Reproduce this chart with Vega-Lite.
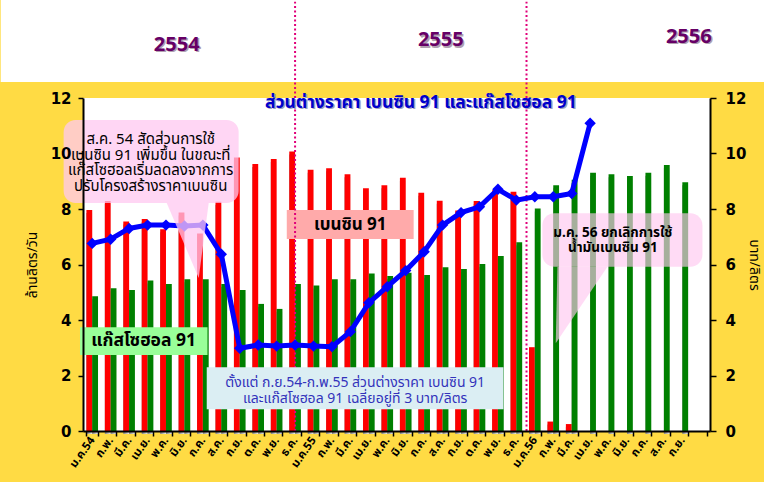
{
  "$schema": "https://vega.github.io/schema/vega-lite/v6.json",
  "background": "#ffdb44",
  "padding": {"left": 0, "top": 0, "right": 0, "bottom": 14},
  "width": 627,
  "height": 333,
  "view": {"fill": "white", "stroke": null},
  "config": {
    "view": {"stroke": null},
    "font": "Tahoma, 'Noto Sans Thai', 'Noto Sans', 'DejaVu Sans', sans-serif"
  },
  "datasets": {
    "bars": [
      {"m": "ม.ค.54", "s": "เบนซิน 91", "v": 7.96},
      {"m": "ก.พ.|54", "s": "เบนซิน 91", "v": 8.29},
      {"m": "มี.ค.|54", "s": "เบนซิน 91", "v": 7.55},
      {"m": "เม.ย.|54", "s": "เบนซิน 91", "v": 7.64},
      {"m": "พ.ค.|54", "s": "เบนซิน 91", "v": 7.27},
      {"m": "มิ.ย.|54", "s": "เบนซิน 91", "v": 7.87},
      {"m": "ก.ค.|54", "s": "เบนซิน 91", "v": 7.12},
      {"m": "ส.ค.|54", "s": "เบนซิน 91", "v": 8.26},
      {"m": "ก.ย.|54", "s": "เบนซิน 91", "v": 9.86},
      {"m": "ต.ค.|54", "s": "เบนซิน 91", "v": 9.62},
      {"m": "พ.ย.|54", "s": "เบนซิน 91", "v": 9.80},
      {"m": "ธ.ค.|54", "s": "เบนซิน 91", "v": 10.07},
      {"m": "ม.ค.55", "s": "เบนซิน 91", "v": 9.41},
      {"m": "ก.พ.|55", "s": "เบนซิน 91", "v": 9.47},
      {"m": "มี.ค.|55", "s": "เบนซิน 91", "v": 9.25},
      {"m": "เม.ย.|55", "s": "เบนซิน 91", "v": 8.75},
      {"m": "พ.ค.|55", "s": "เบนซิน 91", "v": 8.86},
      {"m": "มิ.ย.|55", "s": "เบนซิน 91", "v": 9.13},
      {"m": "ก.ค.|55", "s": "เบนซิน 91", "v": 8.59},
      {"m": "ส.ค.|55", "s": "เบนซิน 91", "v": 8.30},
      {"m": "ก.ย.|55", "s": "เบนซิน 91", "v": 7.95},
      {"m": "ต.ค.|55", "s": "เบนซิน 91", "v": 8.29},
      {"m": "พ.ย.|55", "s": "เบนซิน 91", "v": 8.68},
      {"m": "ธ.ค.|55", "s": "เบนซิน 91", "v": 8.62},
      {"m": "ม.ค.56", "s": "เบนซิน 91", "v": 3.02},
      {"m": "ก.พ.|56", "s": "เบนซิน 91", "v": 0.34},
      {"m": "มี.ค.|56", "s": "เบนซิน 91", "v": 0.25},
      {"m": "ม.ค.54", "s": "แก๊สโซฮอล 91", "v": 4.86},
      {"m": "ก.พ.|54", "s": "แก๊สโซฮอล 91", "v": 5.14},
      {"m": "มี.ค.|54", "s": "แก๊สโซฮอล 91", "v": 5.08},
      {"m": "เม.ย.|54", "s": "แก๊สโซฮอล 91", "v": 5.42},
      {"m": "พ.ค.|54", "s": "แก๊สโซฮอล 91", "v": 5.30},
      {"m": "มิ.ย.|54", "s": "แก๊สโซฮอล 91", "v": 5.47},
      {"m": "ก.ค.|54", "s": "แก๊สโซฮอล 91", "v": 5.47},
      {"m": "ส.ค.|54", "s": "แก๊สโซฮอล 91", "v": 5.30},
      {"m": "ก.ย.|54", "s": "แก๊สโซฮอล 91", "v": 5.08},
      {"m": "ต.ค.|54", "s": "แก๊สโซฮอล 91", "v": 4.58},
      {"m": "พ.ย.|54", "s": "แก๊สโซฮอล 91", "v": 4.40},
      {"m": "ธ.ค.|54", "s": "แก๊สโซฮอล 91", "v": 5.30},
      {"m": "ม.ค.55", "s": "แก๊สโซฮอล 91", "v": 5.24},
      {"m": "ก.พ.|55", "s": "แก๊สโซฮอล 91", "v": 5.47},
      {"m": "มี.ค.|55", "s": "แก๊สโซฮอล 91", "v": 5.47},
      {"m": "เม.ย.|55", "s": "แก๊สโซฮอล 91", "v": 5.68},
      {"m": "พ.ค.|55", "s": "แก๊สโซฮอล 91", "v": 5.59},
      {"m": "มิ.ย.|55", "s": "แก๊สโซฮอล 91", "v": 5.70},
      {"m": "ก.ค.|55", "s": "แก๊สโซฮอล 91", "v": 5.62},
      {"m": "ส.ค.|55", "s": "แก๊สโซฮอล 91", "v": 5.90},
      {"m": "ก.ย.|55", "s": "แก๊สโซฮอล 91", "v": 5.84},
      {"m": "ต.ค.|55", "s": "แก๊สโซฮอล 91", "v": 6.02},
      {"m": "พ.ย.|55", "s": "แก๊สโซฮอล 91", "v": 6.31},
      {"m": "ธ.ค.|55", "s": "แก๊สโซฮอล 91", "v": 6.80},
      {"m": "ม.ค.56", "s": "แก๊สโซฮอล 91", "v": 8.02},
      {"m": "ก.พ.|56", "s": "แก๊สโซฮอล 91", "v": 8.86},
      {"m": "มี.ค.|56", "s": "แก๊สโซฮอล 91", "v": 9.05},
      {"m": "เม.ย.|56", "s": "แก๊สโซฮอล 91", "v": 9.31},
      {"m": "พ.ค.|56", "s": "แก๊สโซฮอล 91", "v": 9.25},
      {"m": "มิ.ย.|56", "s": "แก๊สโซฮอล 91", "v": 9.19},
      {"m": "ก.ค.|56", "s": "แก๊สโซฮอล 91", "v": 9.31},
      {"m": "ส.ค.|56", "s": "แก๊สโซฮอล 91", "v": 9.59},
      {"m": "ก.ย.|56", "s": "แก๊สโซฮอล 91", "v": 8.96}
    ],
    "diff": [
      {"m": "ม.ค.54", "d": 6.76},
      {"m": "ก.พ.|54", "d": 6.91},
      {"m": "มี.ค.|54", "d": 7.30},
      {"m": "เม.ย.|54", "d": 7.42},
      {"m": "พ.ค.|54", "d": 7.42},
      {"m": "มิ.ย.|54", "d": 7.39},
      {"m": "ก.ค.|54", "d": 7.42},
      {"m": "ส.ค.|54", "d": 6.37},
      {"m": "ก.ย.|54", "d": 2.98},
      {"m": "ต.ค.|54", "d": 3.10},
      {"m": "พ.ย.|54", "d": 3.06},
      {"m": "ธ.ค.|54", "d": 3.10},
      {"m": "ม.ค.55", "d": 3.06},
      {"m": "ก.พ.|55", "d": 3.04},
      {"m": "มี.ค.|55", "d": 3.58},
      {"m": "เม.ย.|55", "d": 4.62},
      {"m": "พ.ค.|55", "d": 5.20},
      {"m": "มิ.ย.|55", "d": 5.78},
      {"m": "ก.ค.|55", "d": 6.46},
      {"m": "ส.ค.|55", "d": 7.42},
      {"m": "ก.ย.|55", "d": 7.87},
      {"m": "ต.ค.|55", "d": 8.08},
      {"m": "พ.ย.|55", "d": 8.71},
      {"m": "ธ.ค.|55", "d": 8.32},
      {"m": "ม.ค.56", "d": 8.44},
      {"m": "ก.พ.|56", "d": 8.44},
      {"m": "มี.ค.|56", "d": 8.56},
      {"m": "เม.ย.|56", "d": 11.09}
    ]
  },
  "layer": [
    {
      "data": {"name": "bars"},
      "encoding": {
        "x": {
          "field": "m", "type": "nominal", "sort": null,
          "scale": {
            "domain": ["ม.ค.54","ก.พ.|54","มี.ค.|54","เม.ย.|54","พ.ค.|54","มิ.ย.|54","ก.ค.|54","ส.ค.|54","ก.ย.|54","ต.ค.|54","พ.ย.|54","ธ.ค.|54","ม.ค.55","ก.พ.|55","มี.ค.|55","เม.ย.|55","พ.ค.|55","มิ.ย.|55","ก.ค.|55","ส.ค.|55","ก.ย.|55","ต.ค.|55","พ.ย.|55","ธ.ค.|55","ม.ค.56","ก.พ.|56","มี.ค.|56","เม.ย.|56","พ.ค.|56","มิ.ย.|56","ก.ค.|56","ส.ค.|56","ก.ย.|56","|"],
            "paddingInner": 0.37, "paddingOuter": 0.185
          },
          "axis": {
            "title": null, "labelExpr": "datum.value ? split(datum.value, '|')[0] : ''",
            "labelAngle": -55, "labelFontSize": 11.5, "labelFontWeight": "bold", "labelColor": "black",
            "labelPadding": 2, "tickBand": "extent", "tickSize": 5, "tickColor": "black", "tickWidth": 1.5,
            "domainColor": "black", "domainWidth": 2, "grid": false, "zindex": 1
          }
        },
        "xOffset": {"field": "s", "type": "nominal", "sort": null, "scale": {"domain": ["เบนซิน 91", "แก๊สโซฮอล 91"]}},
        "y": {
          "field": "v", "type": "quantitative",
          "scale": {"domain": [0, 12], "nice": false},
          "axis": {
            "orient": "left", "values": [0, 2, 4, 6, 8, 10, 12],
            "title": "ล้านลิตร/วัน", "titleFontSize": 14, "titleFontWeight": "normal", "titleColor": "black",
            "titlePadding": 11,
            "labelFontSize": 15, "labelFontWeight": "bold", "labelFont": "Verdana, 'DejaVu Sans', sans-serif", "labelColor": "black",
            "labelPadding": 7, "tickSize": 5, "tickColor": "black", "tickWidth": 1.5,
            "domainColor": "black", "domainWidth": 2, "grid": false, "zindex": 1
          }
        }
      },
      "layer": [
        {
          "mark": {
            "type": "bar", "xOffset": 4, "x2Offset": 4, "yOffset": 3,
            "fill": {"gradient": "linear", "x1": 0, "y1": 0, "x2": 1, "y2": 0, "stops": [{"offset": 0, "color": "#808080"}, {"offset": 1, "color": "#eeeeee"}]}
          }
        },
        {
          "mark": {"type": "bar"},
          "encoding": {
            "color": {"field": "s", "type": "nominal", "scale": {"domain": ["เบนซิน 91", "แก๊สโซฮอล 91"], "range": ["#ff0000", "#008000"]}, "legend": null}
          }
        }
      ]
    },
    {
      "data": {"values": [{}]},
      "layer": [
        {
          "mark": {"type": "rect", "color": "white"},
          "encoding": {
            "x": {"datum": -4.463, "type": "quantitative", "scale": {"domain": [0, 34], "nice": false, "zero": false}, "axis": null},
            "x2": {"datum": 36.967},
            "y": {"datum": 12.58, "type": "quantitative", "scale": {"domain": [0, 12], "nice": false}, "axis": null},
            "y2": {"datum": 15.53}
          }
        },
        {
          "mark": {"type": "text", "text": "2554", "fontSize": 20, "fontWeight": "bold", "color": "#b0a0b0", "dx": 1.5, "dy": 1.5},
          "encoding": {
            "x": {"datum": 5.08, "type": "quantitative", "scale": {"domain": [0, 34], "nice": false, "zero": false}, "axis": null},
            "y": {"datum": 13.91, "type": "quantitative", "scale": {"domain": [0, 12], "nice": false}, "axis": null}
          }
        },
        {
          "mark": {"type": "text", "text": "2554", "fontSize": 20, "fontWeight": "bold", "color": "#660066"},
          "encoding": {
            "x": {"datum": 5.08, "type": "quantitative", "scale": {"domain": [0, 34], "nice": false, "zero": false}, "axis": null},
            "y": {"datum": 13.91, "type": "quantitative", "scale": {"domain": [0, 12], "nice": false}, "axis": null}
          }
        },
        {
          "mark": {"type": "text", "text": "2555", "fontSize": 20, "fontWeight": "bold", "color": "#b0a0b0", "dx": 1.5, "dy": 1.5},
          "encoding": {
            "x": {"datum": 19.4, "type": "quantitative", "scale": {"domain": [0, 34], "nice": false, "zero": false}, "axis": null},
            "y": {"datum": 14.09, "type": "quantitative", "scale": {"domain": [0, 12], "nice": false}, "axis": null}
          }
        },
        {
          "mark": {"type": "text", "text": "2555", "fontSize": 20, "fontWeight": "bold", "color": "#660066"},
          "encoding": {
            "x": {"datum": 19.4, "type": "quantitative", "scale": {"domain": [0, 34], "nice": false, "zero": false}, "axis": null},
            "y": {"datum": 14.09, "type": "quantitative", "scale": {"domain": [0, 12], "nice": false}, "axis": null}
          }
        },
        {
          "mark": {"type": "text", "text": "2556", "fontSize": 20, "fontWeight": "bold", "color": "#b0a0b0", "dx": 1.5, "dy": 1.5},
          "encoding": {
            "x": {"datum": 32.85, "type": "quantitative", "scale": {"domain": [0, 34], "nice": false, "zero": false}, "axis": null},
            "y": {"datum": 14.2, "type": "quantitative", "scale": {"domain": [0, 12], "nice": false}, "axis": null}
          }
        },
        {
          "mark": {"type": "text", "text": "2556", "fontSize": 20, "fontWeight": "bold", "color": "#660066"},
          "encoding": {
            "x": {"datum": 32.85, "type": "quantitative", "scale": {"domain": [0, 34], "nice": false, "zero": false}, "axis": null},
            "y": {"datum": 14.2, "type": "quantitative", "scale": {"domain": [0, 12], "nice": false}, "axis": null}
          }
        },
        {
          "mark": {"type": "rect", "color": "#ffaaaa"},
          "encoding": {
            "x": {"datum": 11.05, "type": "quantitative", "scale": {"domain": [0, 34], "nice": false, "zero": false}, "axis": null},
            "x2": {"datum": 17.93},
            "y": {"datum": 6.92, "type": "quantitative", "scale": {"domain": [0, 12], "nice": false}, "axis": null},
            "y2": {"datum": 7.96}
          }
        },
        {
          "mark": {"type": "text", "text": "เบนซิน 91", "fontSize": 17, "fontWeight": "bold", "color": "black", "align": "center", "baseline": "middle"},
          "encoding": {
            "x": {"datum": 14.49, "type": "quantitative", "scale": {"domain": [0, 34], "nice": false, "zero": false}, "axis": null},
            "y": {"datum": 7.44, "type": "quantitative", "scale": {"domain": [0, 12], "nice": false}, "axis": null}
          }
        },
        {
          "mark": {"type": "rule", "color": "#e0007a", "strokeWidth": 2, "strokeDash": [2, 2.5]},
          "encoding": {
            "x": {"datum": 11.5, "type": "quantitative", "scale": {"domain": [0, 34], "nice": false, "zero": false}, "axis": null},
            "y": {"datum": 0, "type": "quantitative", "scale": {"domain": [0, 12], "nice": false}, "axis": null},
            "y2": {"datum": 15.47}
          }
        },
        {
          "mark": {"type": "rule", "color": "#e0007a", "strokeWidth": 2, "strokeDash": [2, 2.5]},
          "encoding": {
            "x": {"datum": 24.05, "type": "quantitative", "scale": {"domain": [0, 34], "nice": false, "zero": false}, "axis": null},
            "y": {"datum": 0, "type": "quantitative", "scale": {"domain": [0, 12], "nice": false}, "axis": null},
            "y2": {"datum": 15.47}
          }
        }
      ]
    },
    {
      "data": {"name": "diff"},
      "encoding": {
        "x": {
          "field": "m", "type": "nominal", "sort": null,
          "scale": {
            "type": "point", "padding": 0.5,
            "domain": ["ม.ค.54","ก.พ.|54","มี.ค.|54","เม.ย.|54","พ.ค.|54","มิ.ย.|54","ก.ค.|54","ส.ค.|54","ก.ย.|54","ต.ค.|54","พ.ย.|54","ธ.ค.|54","ม.ค.55","ก.พ.|55","มี.ค.|55","เม.ย.|55","พ.ค.|55","มิ.ย.|55","ก.ค.|55","ส.ค.|55","ก.ย.|55","ต.ค.|55","พ.ย.|55","ธ.ค.|55","ม.ค.56","ก.พ.|56","มี.ค.|56","เม.ย.|56","พ.ค.|56","มิ.ย.|56","ก.ค.|56","ส.ค.|56","ก.ย.|56","|"]
          },
          "axis": null
        },
        "y": {
          "field": "d", "type": "quantitative",
          "scale": {"domain": [0, 12], "nice": false},
          "axis": {
            "orient": "right", "values": [0, 2, 4, 6, 8, 10, 12],
            "title": "บาท/ลิตร", "titleFontSize": 14, "titleFontWeight": "normal", "titleColor": "black", "titlePadding": 1,
            "labelFontSize": 15, "labelFontWeight": "bold", "labelFont": "Verdana, 'DejaVu Sans', sans-serif", "labelColor": "black",
            "labelPadding": 9, "tickSize": 6, "tickColor": "black", "tickWidth": 1.5,
            "domainColor": "black", "domainWidth": 2, "grid": false, "zindex": 1
          }
        }
      },
      "layer": [
        {"mark": {"type": "line", "color": "#0000ff", "strokeWidth": 5}},
        {"mark": {"type": "point", "shape": "diamond", "filled": true, "size": 130, "color": "#0000ff", "opacity": 1}}
      ]
    },
    {
      "data": {"values": [{}]},
      "layer": [
        {
          "mark": {"type": "rect", "color": "#ffc8f0", "opacity": 0.75, "cornerRadius": 12},
          "encoding": {
            "x": {"datum": -1.05, "type": "quantitative", "scale": {"domain": [0, 34], "nice": false, "zero": false}, "axis": null},
            "x2": {"datum": 8.44},
            "y": {"datum": 8.22, "type": "quantitative", "scale": {"domain": [0, 12], "nice": false}, "axis": null},
            "y2": {"datum": 11.21}
          }
        },
        {
          "mark": {"type": "point", "shape": "M-2.1,0L2.1,0L1.1,7.5Z", "size": 400, "filled": true, "color": "#ffc8f0", "opacity": 0.75, "strokeWidth": 0},
          "encoding": {
            "x": {"datum": 5.678, "type": "quantitative", "scale": {"domain": [0, 34], "nice": false, "zero": false}, "axis": null},
            "y": {"datum": 8.216, "type": "quantitative", "scale": {"domain": [0, 12], "nice": false}, "axis": null}
          }
        },
        {
          "mark": {"type": "text", "text": ["ส.ค. 54 สัดส่วนการใช้", "เบนซิน 91 เพิ่มขึ้น ในขณะที่", "แก๊สโซฮอลเริ่มลดลงจากการ", "ปรับโครงสร้างราคาเบนซิน"], "fontSize": 15, "lineHeight": 15.6, "color": "black", "align": "center", "baseline": "middle"},
          "encoding": {
            "x": {"datum": 3.67, "type": "quantitative", "scale": {"domain": [0, 34], "nice": false, "zero": false}, "axis": null},
            "y": {"datum": 10.52, "type": "quantitative", "scale": {"domain": [0, 12], "nice": false}, "axis": null}
          }
        },
        {
          "mark": {"type": "rect", "color": "#ffc8f0", "opacity": 0.65, "cornerRadius": 12},
          "encoding": {
            "x": {"datum": 24.91, "type": "quantitative", "scale": {"domain": [0, 34], "nice": false, "zero": false}, "axis": null},
            "x2": {"datum": 33.59},
            "y": {"datum": 5.92, "type": "quantitative", "scale": {"domain": [0, 12], "nice": false}, "axis": null},
            "y2": {"datum": 7.845}
          }
        },
        {
          "mark": {"type": "point", "shape": "M0,0L5,0L-0.17,7.66Z", "size": 400, "filled": true, "color": "#ffc8f0", "opacity": 0.65, "strokeWidth": 0},
          "encoding": {
            "x": {"datum": 25.727, "type": "quantitative", "scale": {"domain": [0, 34], "nice": false, "zero": false}, "axis": null},
            "y": {"datum": 5.921, "type": "quantitative", "scale": {"domain": [0, 12], "nice": false}, "axis": null}
          }
        },
        {
          "mark": {"type": "text", "text": ["ม.ค. 56 ยกเลิกการใช้", "น้ำมันเบนซิน 91"], "fontSize": 13.5, "fontWeight": "bold", "lineHeight": 14.4, "color": "black", "align": "center", "baseline": "middle"},
          "encoding": {
            "x": {"datum": 28.73, "type": "quantitative", "scale": {"domain": [0, 34], "nice": false, "zero": false}, "axis": null},
            "y": {"datum": 7.125, "type": "quantitative", "scale": {"domain": [0, 12], "nice": false}, "axis": null}
          }
        },
        {
          "mark": {"type": "rect", "color": "#dbeef3"},
          "encoding": {
            "x": {"datum": 6.71, "type": "quantitative", "scale": {"domain": [0, 34], "nice": false, "zero": false}, "axis": null},
            "x2": {"datum": 22.8},
            "y": {"datum": 0.78, "type": "quantitative", "scale": {"domain": [0, 12], "nice": false}, "axis": null},
            "y2": {"datum": 2.3}
          }
        },
        {
          "mark": {"type": "text", "text": ["ตั้งแต่ ก.ย.54-ก.พ.55 ส่วนต่างราคา เบนซิน 91", "และแก๊สโซฮอล 91 เฉลี่ยอยู่ที่ 3 บาท/ลิตร"], "fontSize": 14, "lineHeight": 16, "color": "#3333bb", "align": "center", "baseline": "middle"},
          "encoding": {
            "x": {"datum": 14.76, "type": "quantitative", "scale": {"domain": [0, 34], "nice": false, "zero": false}, "axis": null},
            "y": {"datum": 1.72, "type": "quantitative", "scale": {"domain": [0, 12], "nice": false}, "axis": null}
          }
        },
        {
          "mark": {"type": "rect", "color": "#99ff99"},
          "encoding": {
            "x": {"datum": -0.16, "type": "quantitative", "scale": {"domain": [0, 34], "nice": false, "zero": false}, "axis": null},
            "x2": {"datum": 6.75},
            "y": {"datum": 2.74, "type": "quantitative", "scale": {"domain": [0, 12], "nice": false}, "axis": null},
            "y2": {"datum": 3.74}
          }
        },
        {
          "mark": {"type": "text", "text": "แก๊สโซฮอล 91", "fontSize": 17.5, "fontWeight": "bold", "color": "black", "align": "center", "baseline": "middle"},
          "encoding": {
            "x": {"datum": 3.29, "type": "quantitative", "scale": {"domain": [0, 34], "nice": false, "zero": false}, "axis": null},
            "y": {"datum": 3.24, "type": "quantitative", "scale": {"domain": [0, 12], "nice": false}, "axis": null}
          }
        },
        {
          "mark": {"type": "text", "text": "ส่วนต่างราคา เบนซิน 91 และแก๊สโซฮอล 91", "fontSize": 17.5, "fontWeight": "bold", "color": "#a0a0c0", "align": "center", "baseline": "middle", "dx": 1.5, "dy": 1.5},
          "encoding": {
            "x": {"datum": 18.32, "type": "quantitative", "scale": {"domain": [0, 34], "nice": false, "zero": false}, "axis": null},
            "y": {"datum": 11.82, "type": "quantitative", "scale": {"domain": [0, 12], "nice": false}, "axis": null}
          }
        },
        {
          "mark": {"type": "text", "text": "ส่วนต่างราคา เบนซิน 91 และแก๊สโซฮอล 91", "fontSize": 17.5, "fontWeight": "bold", "color": "#0000cc", "align": "center", "baseline": "middle"},
          "encoding": {
            "x": {"datum": 18.32, "type": "quantitative", "scale": {"domain": [0, 34], "nice": false, "zero": false}, "axis": null},
            "y": {"datum": 11.82, "type": "quantitative", "scale": {"domain": [0, 12], "nice": false}, "axis": null}
          }
        }
      ]
    }
  ],
  "resolve": {"scale": {"x": "independent", "y": "independent"}}
}
